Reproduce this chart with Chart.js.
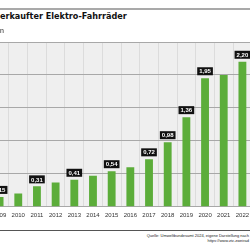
<!DOCTYPE html>
<html>
<head>
<meta charset="utf-8">
<script src="https://cdn.jsdelivr.net/npm/chart.js@4/dist/chart.umd.min.js"></script>
<style>
    html, body { margin: 0; padding: 0; width: 250px; height: 250px; overflow: hidden; background: #fff; }
    body { position: relative; font-family: "Liberation Sans", Arial, sans-serif; }
    .top-rule { position: absolute; left: 0; top: 8px; width: 250px; height: 2px; background: #a9a9a9; }
    .title { position: absolute; left: 0; top: 11px; font-family: "Liberation Sans Narrow", "DejaVu Sans Condensed", "Liberation Sans", sans-serif; font-weight: 700; font-size: 9px; color: #111; white-space: nowrap; }
    .unit { position: absolute; left: 0; top: 27px; font-size: 7px; color: #222; opacity: 0.99; will-change: transform; }
    .chart-box { position: absolute; left: -12px; top: 38px; width: 266px; height: 186px; }
    .bottom-rule { position: absolute; left: 0; top: 230px; width: 250px; height: 1px; background: #555; }
    .source { position: absolute; right: 1px; top: 233px; font-size: 4px; line-height: 5px; color: #222; text-align: right; white-space: nowrap; }
</style>
</head>
<body>
    <div class="top-rule"></div>
    <div class="title">erkaufter Elektro-Fahrräder</div>
    <div class="unit">n</div>
    <div class="chart-box"><canvas id="salesChart"></canvas></div>
    <div class="bottom-rule"></div>
    <div class="source">Quelle: Umweltbundesamt 2024, eigene Darstellung nach<br>https://www.ziv-zweirad</div>

<script>
// verkaufte E-Bikes in Mio.
const years = ['2009', '2010', '2011', '2012', '2013', '2014', '2015', '2016', '2017', '2018', '2019', '2020', '2021', '2022'];
const sales = [0.15, 0.20, 0.31, 0.37, 0.41, 0.47, 0.54, 0.60, 0.72, 0.98, 1.36, 1.95, 2.00, 2.20];
const valueLabels = ['0,15', null, '0,31', null, '0,41', null, '0,54', null, '0,72', '0,98', '1,36', '1,95', null, '2,20'];
const yMin = 0;
const yMax = 2.5;
const yStep = 0.5;

// grey plot background
const plotBackground = {
    id: 'plotBackground',
    beforeDraw(chart) {
        const { ctx, chartArea: a } = chart;
        ctx.save();
        ctx.fillStyle = '#efefef';
        ctx.fillRect(a.left, a.top, a.right - a.left, a.bottom - a.top);
        ctx.restore();
    }
};

// black boxes with white value text above the bars
const valueBoxes = {
    id: 'valueBoxes',
    afterDatasetsDraw(chart) {
        const { ctx } = chart;
        const bars = chart.getDatasetMeta(0).data;
        ctx.save();
        ctx.font = 'bold 6px "Liberation Sans", sans-serif';
        ctx.textAlign = 'center';
        ctx.textBaseline = 'middle';
        bars.forEach((bar, i) => {
            const txt = valueLabels[i];
            if (!txt) return;
            const w = ctx.measureText(txt).width + 4;
            const h = 8;
            const top = bar.y - 3 - h;
            ctx.fillStyle = '#111';
            ctx.fillRect(bar.x - w / 2, top, w, h);
            ctx.fillStyle = '#fff';
            ctx.fillText(txt, bar.x, top + h / 2 + 0.5);
        });
        ctx.restore();
    }
};

const ctx = document.getElementById('salesChart').getContext('2d');

new Chart(ctx, {
    type: 'bar',
    data: {
        labels: years,
        datasets: [{
            data: sales,
            backgroundColor: '#5cad3a',
            borderWidth: 0,
            barPercentage: 0.42,
            categoryPercentage: 1
        }]
    },
    options: {
        responsive: true,
        maintainAspectRatio: false,
        animation: false,
        layout: { padding: { top: 4, left: 0, right: 0, bottom: 0 } },
        plugins: {
            legend: { display: false },
            tooltip: { enabled: false }
        },
        scales: {
            x: {
                grid: { display: true, color: '#dcdcdc', drawTicks: false, offset: true },
                border: { display: false },
                ticks: { color: '#333', font: { size: 6, family: '"Liberation Sans", sans-serif' }, padding: 5, maxRotation: 0, autoSkip: false }
            },
            y: {
                min: yMin,
                max: yMax,
                grid: { color: '#a8a8a8', drawTicks: false },
                border: { display: false },
                ticks: { display: false, stepSize: yStep }
            }
        }
    },
    plugins: [plotBackground, valueBoxes]
});
</script>
</body>
</html>
